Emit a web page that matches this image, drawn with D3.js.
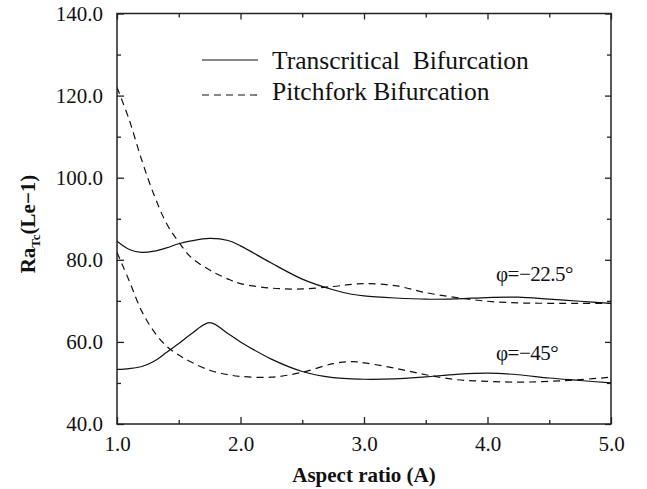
<!DOCTYPE html>
<html>
<head>
<meta charset="utf-8">
<script src="https://cdn.jsdelivr.net/npm/d3@7"></script>
<style>
  body { margin: 0; background: #fff; }
  svg { display: block; }
  text { font-family: "Liberation Serif", "DejaVu Serif", "Times New Roman", serif; fill: #111; }
  .axis path { display: none; }
  .axis line { stroke: #222; stroke-width: 1.3px; }
  .axis text { font-family: "Liberation Serif", "DejaVu Serif", "Times New Roman", serif; font-size: 21px; fill: #111; }
</style>
</head>
<body>
<svg id="chart" width="647" height="489"></svg>
<script>
// aspect ratio samples (shared by all four curves)
var aspect = [1.0, 1.1, 1.2, 1.3, 1.4, 1.5, 1.6, 1.75, 1.9, 2.0, 2.25, 2.5, 2.75, 2.9, 3.0, 3.25, 3.5, 3.75, 4.0, 4.25, 4.5, 4.75, 5.0];

// phi = -22.5
var trans22 = [84.5, 82.5, 81.8, 82.1, 82.9, 83.9, 84.6, 85.2, 84.7, 83.4, 79.2, 75.3, 72.7, 71.6, 71.2, 70.7, 70.4, 70.5, 70.8, 70.9, 70.4, 69.9, 69.4];
var pitch22 = [122.0, 114.0, 104.3, 95.8, 88.9, 84.3, 80.6, 77.5, 75.3, 74.2, 73.1, 72.9, 73.5, 74.0, 74.2, 73.7, 72.0, 70.8, 69.9, 69.5, 69.4, 69.4, 69.4];

// phi = -45
var trans45 = [53.3, 53.5, 54.0, 55.3, 57.4, 59.6, 61.9, 64.7, 62.0, 60.0, 55.8, 52.8, 51.3, 51.0, 50.9, 51.0, 51.5, 52.1, 52.4, 52.0, 51.2, 50.6, 50.0];
var pitch45 = [81.8, 74.8, 67.5, 62.5, 59.0, 56.8, 55.1, 53.1, 52.0, 51.6, 51.4, 52.6, 54.7, 55.2, 54.9, 53.6, 52.0, 50.8, 50.4, 50.2, 50.4, 50.8, 51.4];

var xMajor = [1, 2, 3, 4, 5],
    xMinor = [1.5, 2.5, 3.5, 4.5],
    yMajor = [40, 60, 80, 100, 120, 140],
    yMinor = [50, 70, 90, 110, 130];

var legendLabels = ["Transcritical\u00a0 Bifurcation", "Pitchfork Bifurcation"],
    curveLabels = ["\u03c6=\u221222.5\u00b0", "\u03c6=\u221245\u00b0"];

var svg = d3.select("#chart"),
    margin = {top: 13.5, right: 36, bottom: 65, left: 117},
    width = 647 - margin.left - margin.right,
    height = 489 - margin.top - margin.bottom,
    g = svg.append("g").attr("transform", "translate(" + margin.left + "," + margin.top + ")");

var x = d3.scaleLinear().domain([1, 5]).range([0, width]),
    y = d3.scaleLinear().domain([40, 140]).range([height, 0]);

var fmt = d3.format(".1f");

// ticks point inward on all four sides
g.append("g").attr("class", "axis").attr("transform", "translate(0," + height + ")")
    .call(d3.axisBottom(x).tickValues(xMajor).tickSize(-7).tickPadding(12).tickFormat(fmt));
g.append("g").attr("class", "axis").attr("transform", "translate(0," + height + ")")
    .call(d3.axisBottom(x).tickValues(xMinor).tickSize(-4).tickFormat(""));
g.append("g").attr("class", "axis")
    .call(d3.axisTop(x).tickValues(xMajor).tickSize(-6).tickFormat(""));
g.append("g").attr("class", "axis")
    .call(d3.axisTop(x).tickValues(xMinor).tickSize(-4).tickFormat(""));

g.append("g").attr("class", "axis")
    .call(d3.axisLeft(y).tickValues(yMajor).tickSize(-7).tickPadding(14).tickFormat(fmt));
g.append("g").attr("class", "axis")
    .call(d3.axisLeft(y).tickValues(yMinor).tickSize(-4).tickFormat(""));
g.append("g").attr("class", "axis").attr("transform", "translate(" + width + ",0)")
    .call(d3.axisRight(y).tickValues(yMajor).tickSize(-6).tickFormat(""));
g.append("g").attr("class", "axis").attr("transform", "translate(" + width + ",0)")
    .call(d3.axisRight(y).tickValues(yMinor).tickSize(-4).tickFormat(""));

g.append("rect")
    .attr("width", width)
    .attr("height", height)
    .attr("fill", "none")
    .attr("stroke", "#222")
    .attr("stroke-width", 1.5);

g.append("clipPath")
    .attr("id", "clip")
  .append("rect")
    .attr("width", width)
    .attr("height", height);

var line = d3.line()
    .x(function(d) { return x(d[0]); })
    .y(function(d) { return y(d[1]); })
    .curve(d3.curveCatmullRom.alpha(0.5));

var series = [
  {values: trans22, dash: null},
  {values: pitch22, dash: "7,5"},
  {values: trans45, dash: null},
  {values: pitch45, dash: "7,5"}
];

g.append("g")
    .attr("clip-path", "url(#clip)")
  .selectAll("path")
  .data(series)
  .enter().append("path")
    .attr("d", function(s) { return line(d3.zip(aspect, s.values)); })
    .attr("fill", "none")
    .attr("stroke", "#111")
    .attr("stroke-width", 1.2)
    .attr("stroke-dasharray", function(s) { return s.dash; });

// legend
var legend = svg.append("g")
    .attr("font-size", "25.5px");

legend.selectAll("line")
  .data(legendLabels)
  .enter().append("line")
    .attr("x1", 202).attr("x2", 258)
    .attr("y1", function(d, i) { return 60 + i * 35; })
    .attr("y2", function(d, i) { return 60 + i * 35; })
    .attr("stroke", "#111")
    .attr("stroke-width", 1.2)
    .attr("stroke-dasharray", function(d, i) { return i ? "7,5" : null; });

legend.selectAll("text")
  .data(legendLabels)
  .enter().append("text")
    .attr("x", 272)
    .attr("y", function(d, i) { return 69 + i * 31; })
    .text(function(d) { return d; });

// curve labels
svg.selectAll(".curve-label")
  .data(curveLabels)
  .enter().append("text")
    .attr("class", "curve-label")
    .attr("x", 496)
    .attr("y", function(d, i) { return i ? 360 : 281; })
    .attr("font-size", "21px")
    .attr("letter-spacing", "-0.5px")
    .text(function(d) { return d; });

// axis titles
svg.append("text")
    .attr("x", margin.left + width / 2)
    .attr("y", 482)
    .attr("text-anchor", "middle")
    .attr("font-size", "21px")
    .attr("font-weight", "bold")
    .text("Aspect ratio (A)");

var ylab = svg.append("text")
    .attr("transform", "translate(35,224) rotate(-90)")
    .attr("text-anchor", "middle")
    .attr("font-size", "21px")
    .attr("font-weight", "bold");
ylab.append("tspan").text("Ra");
ylab.append("tspan").attr("dy", 5).attr("font-size", "13px").text("Tc");
ylab.append("tspan").attr("dy", -5).text("(Le\u22121)");
</script>
</body>
</html>
